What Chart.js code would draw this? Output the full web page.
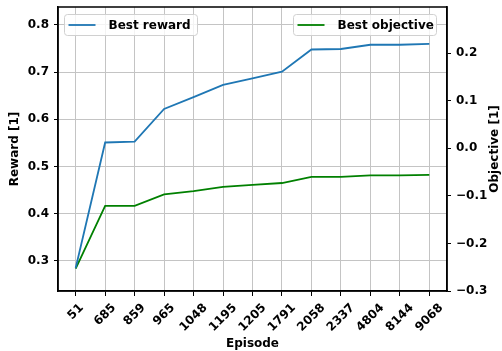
<!DOCTYPE html>
<html>
<head>
<meta charset="utf-8">
<script src="https://cdn.jsdelivr.net/npm/chart.js@4.4.1/dist/chart.umd.min.js"></script>
<style>
  html, body { margin: 0; padding: 0; background: #ffffff; }
  #wrap { width: 502px; height: 351px; position: relative; }
</style>
</head>
<body>
<div id="wrap"><canvas id="chart"></canvas></div>
<script>
// Episodes at which a new best was found
const episodes = ['51', '685', '859', '965', '1048', '1195', '1205', '1791', '2058', '2337', '4804', '8144', '9068'];

// Best reward so far (left axis)
const bestReward = [0.285, 0.551, 0.553, 0.622, 0.647, 0.673, 0.687, 0.701, 0.748, 0.749, 0.758, 0.758, 0.760];

// Best objective so far (right axis)
const bestObjective = [-0.253, -0.121, -0.121, -0.097, -0.090, -0.081, -0.077, -0.073, -0.060, -0.060, -0.057, -0.057, -0.056];

// Tick values of the two value axes
const rewardTicks = [0.3, 0.4, 0.5, 0.6, 0.7, 0.8];
const objectiveTicks = [-0.3, -0.2, -0.1, 0.0, 0.1, 0.2];

const FONT = '"DejaVu Sans", "Liberation Sans", sans-serif';
const BLUE = '#1f77b4';
const GREEN = '#008000';
const GRID = '#c4c4c4';

const fmt = v => {
  const s = (Math.round(v * 10) / 10).toFixed(1);
  return s === '-0.0' ? '0.0' : s.replace('-', '\u2212');
};

const toPoints = arr => arr.map((v, i) => ({ x: i, y: v }));

// Frame, centred rotated episode labels, axis titles and the two legends
const decorations = {
  id: 'decorations',
  afterDraw(chart) {
    const { ctx, chartArea: a } = chart;
    const xScale = chart.scales.x;
    ctx.save();
    // frame around the plot area
    ctx.strokeStyle = '#000';
    ctx.lineWidth = 1.5;
    ctx.strokeRect(a.left, a.top, a.right - a.left, a.bottom - a.top);

    ctx.fillStyle = '#000';
    ctx.font = 'bold 12px ' + FONT;
    ctx.textAlign = 'center';
    ctx.textBaseline = 'middle';

    // episode labels, rotated 45 degrees and centred under each tick
    const lineH = 14;
    const labelTop = a.bottom + 10;
    episodes.forEach((lab, i) => {
      const x = xScale.getPixelForValue(i);
      const w = ctx.measureText(lab).width;
      const cy = labelTop + (w + lineH) / (2 * Math.SQRT2);
      ctx.save();
      ctx.translate(x, cy);
      ctx.rotate(-Math.PI / 4);
      ctx.fillText(lab, 0, 0);
      ctx.restore();
    });

    const midY = (a.top + a.bottom) / 2;
    ctx.fillText('Episode', (a.left + a.right) / 2, 344);

    ctx.save();
    ctx.translate(15, midY);
    ctx.rotate(-Math.PI / 2);
    ctx.fillText('Reward [1]', 0, 0);
    ctx.restore();

    ctx.save();
    ctx.translate(495, midY);
    ctx.rotate(-Math.PI / 2);
    ctx.fillText('Objective [1]', 0, 0);
    ctx.restore();

    // legends
    const drawLegend = (x, y, w, h, color, label) => {
      ctx.beginPath();
      ctx.roundRect(x, y, w, h, 3);
      ctx.fillStyle = 'rgba(255,255,255,0.8)';
      ctx.fill();
      ctx.strokeStyle = '#d0d0d0';
      ctx.lineWidth = 1;
      ctx.stroke();
      ctx.beginPath();
      ctx.strokeStyle = color;
      ctx.lineWidth = 1.8;
      ctx.moveTo(x + 4, y + h / 2);
      ctx.lineTo(x + 31, y + h / 2);
      ctx.stroke();
      ctx.fillStyle = '#000';
      ctx.textAlign = 'left';
      ctx.textBaseline = 'middle';
      ctx.fillText(label, x + 44, y + h / 2 + 0.5);
    };
    drawLegend(64.5, 14.5, 133, 21, BLUE, chart.data.datasets[0].label);
    drawLegend(293.5, 14.5, 143, 21, GREEN, chart.data.datasets[1].label);
    ctx.restore();
  }
};

const fixedTicks = list => s => { s.ticks = list.map(v => ({ value: v })); };

new Chart(document.getElementById('chart'), {
  type: 'line',
  data: {
    datasets: [
      {
        label: 'Best reward',
        data: toPoints(bestReward),
        yAxisID: 'y',
        borderColor: BLUE,
        borderWidth: 1.8,
        pointRadius: 0,
        tension: 0,
        fill: false
      },
      {
        label: 'Best objective',
        data: toPoints(bestObjective),
        yAxisID: 'y2',
        borderColor: GREEN,
        borderWidth: 1.8,
        pointRadius: 0,
        tension: 0,
        fill: false
      }
    ]
  },
  options: {
    responsive: true,
    maintainAspectRatio: false,
    animation: false,
    devicePixelRatio: 1,
    layout: { padding: { top: 7, left: 0, right: 0, bottom: 0 } },
    plugins: {
      legend: { display: false },
      tooltip: { enabled: false }
    },
    scales: {
      x: {
        type: 'linear',
        min: -0.6,
        max: 12.6,
        afterBuildTicks: fixedTicks(episodes.map((_, i) => i)),
        afterFit: s => { s.height = 60; s.paddingLeft = 0; s.paddingRight = 0; },
        ticks: { display: false, autoSkip: false },
        grid: { color: GRID, lineWidth: 1, tickColor: '#000', tickLength: 5 },
        border: { display: true, color: '#000', width: 1.5 }
      },
      y: {
        position: 'left',
        min: 0.2364,
        max: 0.838,
        afterBuildTicks: fixedTicks(rewardTicks),
        afterFit: s => { s.width = 58; s.paddingTop = 0; s.paddingBottom = 0; },
        ticks: {
          padding: 5,
          color: '#000',
          font: { family: FONT, size: 12, weight: 'bold' },
          callback: v => fmt(v)
        },
        grid: { color: GRID, lineWidth: 1, tickColor: '#000', tickLength: 4 },
        border: { display: true, color: '#000', width: 1.5 }
      },
      y2: {
        position: 'right',
        min: -0.3,
        max: 0.297,
        afterBuildTicks: fixedTicks(objectiveTicks),
        afterFit: s => { s.width = 55; s.paddingTop = 0; s.paddingBottom = 0; },
        ticks: {
          padding: 5,
          color: '#000',
          font: { family: FONT, size: 12, weight: 'bold' },
          callback: v => fmt(v)
        },
        grid: { drawOnChartArea: false, tickColor: '#000', tickLength: 4 },
        border: { display: true, color: '#000', width: 1.5 }
      }
    }
  },
  plugins: [decorations]
});
</script>
</body>
</html>
